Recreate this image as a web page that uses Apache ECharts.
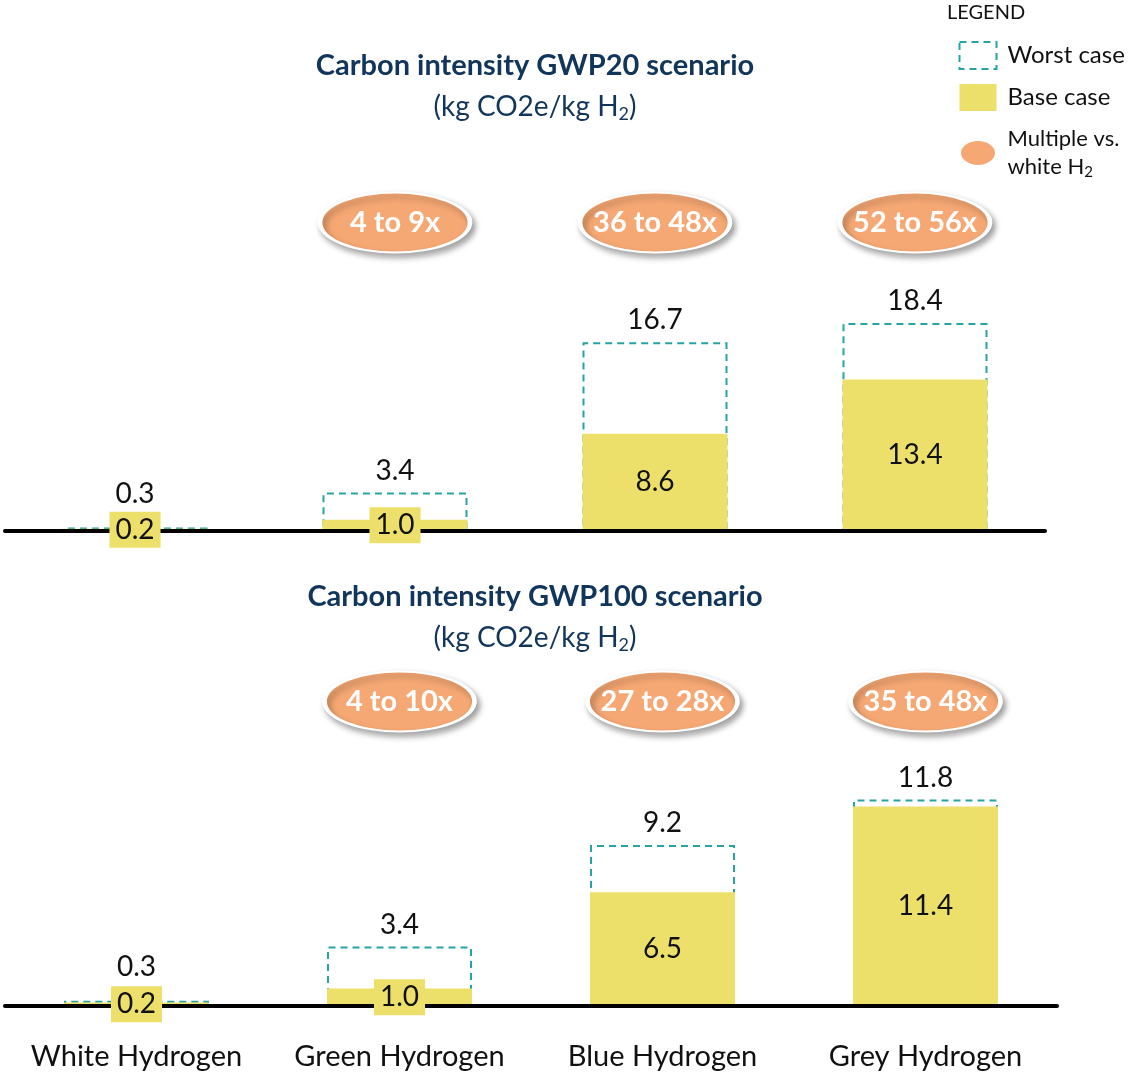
<!DOCTYPE html>
<html>
<head>
<meta charset="utf-8">
<script src="https://cdn.jsdelivr.net/npm/echarts@6/dist/echarts.min.js"></script>
<style>
  html, body { margin: 0; padding: 0; background: #fff; }
  #chart { width: 1128px; height: 1074px; }
</style>
</head>
<body>
<div id="chart"></div>
<script>
// categories / values
const categories = ['White Hydrogen', 'Green Hydrogen', 'Blue Hydrogen', 'Grey Hydrogen'];
const gwp20Worst = [0.3, 3.4, 16.7, 18.4];
const gwp20Base = [0.2, 1.0, 8.6, 13.4];
const gwp20Multiple = ['', '4 to 9x', '36 to 48x', '52 to 56x'];
const gwp100Worst = [0.3, 3.4, 9.2, 11.8];
const gwp100Base = [0.2, 1.0, 6.5, 11.4];
const gwp100Multiple = ['', '4 to 10x', '27 to 28x', '35 to 48x'];

const FONT = 'Lato, "Open Sans", sans-serif';
const TEAL = '#27a3a1';
const YELLOW = '#ece06b';
const ORANGE = '#f6a874';
const NAVY = '#12355b';
const ELLIPSE = 'path://M0,50 A50,50 0 1,1 100,50 A50,50 0 1,1 0,50 Z';
const subRich = { sub: { fontSize: 18, fontFamily: FONT, color: NAVY, padding: [15, 0, 0, 0] } };

let chart = echarts.init(document.getElementById('chart'));

// one panel = worst outline + base bar + base label + badges
function panelSeries(idx, worst, base, multiple, badgeY) {
    const axes = { xAxisIndex: idx, yAxisIndex: idx };
    return [
        {
            ...axes,
            type: 'bar',
            name: 'Worst case',
            z: 1,
            barWidth: 145,
            barGap: '-100%',
            data: worst.map((v, i) => i === 0 ? { value: v, label: { distance: 20 } } : v),
            itemStyle: { color: 'rgba(0,0,0,0)', borderColor: TEAL, borderWidth: 2, borderType: [7, 5] },
            label: {
                show: true, position: 'top', distance: 8,
                fontSize: 28, fontFamily: FONT, color: '#111',
                formatter: p => Number(p.value).toFixed(1)
            },
            silent: true
        },
        {
            ...axes,
            type: 'bar',
            name: 'Base case',
            z: 2,
            barWidth: 145,
            barGap: '-100%',
            data: base,
            itemStyle: { color: YELLOW },
            silent: true
        },
        {
            // labels only, drawn above the axis line
            ...axes,
            type: 'bar',
            name: 'baseLabel',
            z: 4,
            barWidth: 145,
            barGap: '-100%',
            data: base,
            itemStyle: { color: 'rgba(0,0,0,0)' },
            label: {
                show: true, position: 'inside',
                fontSize: 28, fontFamily: FONT, color: '#111',
                backgroundColor: YELLOW, padding: [4, 6],
                formatter: p => Number(p.value).toFixed(1)
            },
            silent: true
        },
        {
            ...axes,
            type: 'scatter',
            name: 'multiple',
            z: 5,
            clip: false,
            symbol: ELLIPSE,
            symbolSize: [150, 60],
            data: multiple.map((m, i) => m ? { name: m, value: [categories[i], badgeY] } : null).filter(d => d),
            itemStyle: {
                color: ORANGE, opacity: 1, borderColor: '#fff', borderWidth: 3,
                shadowBlur: 6, shadowOffsetX: 3, shadowOffsetY: 4, shadowColor: 'rgba(0,0,0,0.35)'
            },
            label: {
                show: true, position: 'inside', formatter: '{b}',
                fontSize: 29, fontWeight: 'bold', fontFamily: FONT, color: '#fff'
            },
            silent: true
        }
    ];
}

function xAxisFor(idx, showLabels) {
    return {
        gridIndex: idx,
        type: 'category',
        data: categories,
        z: 3,
        axisLine: { show: true, lineStyle: { color: '#000', width: 4 } },
        axisTick: { show: false },
        axisLabel: { show: showLabels, interval: 0, margin: 36, fontSize: 29, fontFamily: FONT, color: '#111' },
        splitLine: { show: false }
    };
}

let option = {
    backgroundColor: '#fff',
    animation: false,
    title: [
        {
            text: 'Carbon intensity GWP20 scenario',
            subtext: '(kg CO2e/kg H{sub|2})',
            left: 530, top: 46, textAlign: 'center', itemGap: 10,
            textStyle: { fontSize: 29, fontWeight: 'bold', fontFamily: FONT, color: NAVY },
            subtextStyle: { fontSize: 28, fontFamily: FONT, color: NAVY, rich: subRich }
        },
        {
            text: 'Carbon intensity GWP100 scenario',
            subtext: '(kg CO2e/kg H{sub|2})',
            left: 530, top: 577, textAlign: 'center', itemGap: 10,
            textStyle: { fontSize: 29, fontWeight: 'bold', fontFamily: FONT, color: NAVY },
            subtextStyle: { fontSize: 28, fontFamily: FONT, color: NAVY, rich: subRich }
        },
        {
            text: 'LEGEND',
            left: 942, top: -2,
            textStyle: { fontSize: 20, fontWeight: 'normal', fontFamily: FONT, color: '#111' }
        }
    ],
    legend: {
        orient: 'vertical',
        left: 953, top: 36,
        itemWidth: 37, itemHeight: 27, itemGap: 14,
        selectedMode: false,
        symbolKeepAspect: false,
        data: [
            { name: 'Worst case', icon: 'rect', itemStyle: { borderType: [7, 5], borderWidth: 2, borderColor: TEAL, color: 'rgba(0,0,0,0)' } },
            { name: 'Base case', icon: 'rect' },
            {
                name: 'multiple', icon: ELLIPSE,
                itemStyle: { color: ORANGE, opacity: 1, borderColor: '#fff', borderWidth: 3 },
                textStyle: { fontSize: 22, lineHeight: 28 }
            }
        ],
        formatter: name => name === 'multiple' ? 'Multiple vs.\nwhite H{sub|2}' : name,
        textStyle: {
            fontSize: 24, fontFamily: FONT, color: '#111', padding: [0, 0, 0, 6],
            rich: { sub: { fontSize: 15, fontFamily: FONT, color: '#111', padding: [11, 0, 0, 0] } }
        }
    },
    grid: [
        { left: 5, right: 83, top: 192, bottom: 543 },
        { left: 5, right: 71, top: 691, bottom: 68 }
    ],
    xAxis: [xAxisFor(0, false), xAxisFor(1, true)],
    yAxis: [
        { gridIndex: 0, type: 'value', min: 0, max: 30, show: false },
        { gridIndex: 1, type: 'value', min: 0, max: 18, show: false }
    ],
    series: [
        ...panelSeries(0, gwp20Worst, gwp20Base, gwp20Multiple, 27.3),
        ...panelSeries(1, gwp100Worst, gwp100Base, gwp100Multiple, 17.4)
    ]
};

chart.setOption(option, true);
window.addEventListener('resize', function () {
    chart.resize();
});
</script>
</body>
</html>
